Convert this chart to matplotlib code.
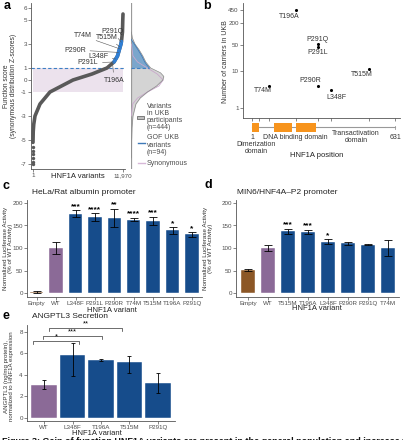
import numpy as np
import matplotlib
matplotlib.use('Agg')
import matplotlib.pyplot as plt
from matplotlib.patches import Rectangle
from matplotlib.lines import Line2D

plt.rcParams['font.family'] = ['Liberation Sans', 'DejaVu Sans']
plt.rcParams['axes.unicode_minus'] = False

# ---------------- data ----------------
# panel a: sorted function scores (variant rank -> score)
curve_idx = [1, 30, 100, 266, 930, 2260, 5320, 7850, 9840, 10770, 11240, 11700, 11760, 11900, 11940, 11970]
curve_score = [-5.2, -4.3, -3.7, -3.0, -2.0, -1.0, 0.0, 0.5, 1.0, 1.5, 2.0, 3.0, 3.2, 4.0, 5.0, 5.5]
outlier_score = [-5.6, -5.9, -6.2, -6.5, -6.8, -7.0]
gof_lo, gof_hi = 1.5, 3.2
a_variants = ['P291Q', 'T74M', 'T515M', 'P290R', 'L348F', 'P291L', 'T196A']
a_scores = [3.15, 2.6, 2.75, 2.3, 1.75, 1.5, 1.4]
a_yticks = [-7, -5, -3, -1, 0, 1, 3, 5, 6]

# densities (score -> relative density)
ukb_y = [-6.5, -5, -4, -3, -2, -1.5, -1, -0.5, 0, 0.3, 0.6, 1.0, 1.5, 2.0, 2.5, 3.0, 3.5, 4.0]
ukb_w = [0.01, 0.02, 0.03, 0.06, 0.15, 0.28, 0.5, 0.78, 0.97, 1.0, 0.9, 0.6, 0.45, 0.36, 0.25, 0.12, 0.04, 0.01]
gof_y = [1.0, 1.2, 1.5, 2.0, 2.5, 3.0, 3.4]
gof_w = [0.56, 0.5, 0.42, 0.33, 0.22, 0.1, 0.0]
syn_y = [-3, -2, -1.5, -1, -0.5, 0, 0.5, 1, 1.5, 2, 3]
syn_w = [0.01, 0.05, 0.2, 0.5, 0.85, 0.98, 0.8, 0.5, 0.2, 0.06, 0.01]

# panel b
b_variants = ['T196A', 'P291Q', 'P291L', 'T515M', 'P290R', 'L348F', 'T74M']
b_position = [196, 291, 291, 515, 290, 348, 74]
b_carriers = [440, 54, 46, 11, 4, 3, 4]
b_yticks = [1, 10, 50, 200, 450]
domains = [('dim', 1, 32), ('dna1', 98, 177), ('dna2', 195, 283)]
protein_len = 631

# panel c
c_variants = ['Empty', 'WT', 'L348F', 'P291L', 'P290R', 'T74M', 'T515M', 'T196A', 'P291Q']
c_mean = [3, 100, 176, 169, 167, 163, 160, 139, 130]
c_err = [2, 13, 8, 8, 20, 4, 9, 7, 5]
c_sig = ['', '', '***', '****', '**', '****', '***', '*', '*']

# panel d
d_variants = ['Empty', 'WT', 'T515M', 'T196A', 'L348F', 'P290R', 'P291Q', 'T74M']
d_mean = [51, 100, 137, 136, 114, 110, 107, 100]
d_err = [2, 7, 5, 4, 5, 3, 1, 18]
d_sig = ['', '', '***', '***', '*', '', '', '']

# panel e
e_variants = ['WT', 'L348F', 'T196A', 'T515M', 'P291Q']
e_mean = [3.1, 5.85, 5.38, 5.17, 3.23]
e_err_lo = [0.46, 2.0, 0.1, 1.0, 0.9]
e_err_hi = [0.46, 1.15, 0.1, 0.55, 0.95]
e_brackets = [(0.61, 2.23, 7.16, '*'), (0.96, 3.04, 7.63, '***'), (1.18, 3.74, 8.37, '**')]

# ---------------- styling ----------------
W, H = 403, 440
fig = plt.figure(figsize=(W / 100, H / 100), dpi=100)
TICK = '#4d4d4d'
SPINE = '#555555'
BLUE = '#164c8b'
PURPLE = '#8b6a97'
BROWN = '#8c5726'


def rect(x0, y0, x1, y1):
    return [x0 / W, 1 - y1 / H, (x1 - x0) / W, (y1 - y0) / H]


def ftext(x, y, s, **kw):
    kw.setdefault('ha', 'center')
    kw.setdefault('va', 'center')
    kw.setdefault('fontsize', 5)
    fig.text(x / W, 1 - y / H, s, **kw)


def style(ax, spines=('left', 'bottom')):
    for k, sp in ax.spines.items():
        sp.set_visible(k in spines)
        sp.set_color(SPINE)
        sp.set_linewidth(0.6)
    ax.tick_params(length=2, width=0.5, color=SPINE, labelsize=4.5, labelcolor=TICK, pad=1)


# ---------------- panel a ----------------
ax = fig.add_axes(rect(31, 3.2, 125, 168.8))
style(ax)
ax.set_xlim(-265, 12236)
ax.set_ylim(-7.4, 6.4)
ax.add_patch(Rectangle((1, -1), 11969, 2, color='#ece2ed', zorder=0, lw=0))
ax.axhline(1, color='#3d7fc4', lw=0.8, ls=(0, (3, 2)), zorder=1)
cx = np.array(curve_idx, float)
cy = np.array(curve_score, float)
ax.plot(cx, cy, color='#595959', lw=2.6, solid_capstyle='round', zorder=2)
m = (cy >= gof_lo) & (cy <= gof_hi)
ax.plot(cx[m], cy[m], color='#2f7fd6', lw=2.6, solid_capstyle='round', zorder=3)
ax.scatter([1] * len(outlier_score), outlier_score, s=6, color='#595959', lw=0, zorder=2)
ax.set_yticks(a_yticks)
ax.set_yticklabels([str(v) for v in a_yticks])
ax.set_xticks([1, 11970])
ax.set_xticklabels(['1', '11,970'])

a_label_pos = {'P291Q': (10507, 4.08), 'T74M': (6650, 3.67), 'T515M': (9840, 3.58),
               'P290R': (5585, 2.5), 'L348F': (8645, 1.92), 'P291L': (7315, 1.42),
               'T196A': (10772, 0.0)}
for name, sc in zip(a_variants, a_scores):
    xi = np.interp(sc, cy, cx)
    ax.annotate(name, xy=(xi, sc), xytext=a_label_pos[name], fontsize=5, color='#333333',
                ha='center', va='center',
                arrowprops=dict(arrowstyle='-', color='#555555', lw=0.4, shrinkA=1, shrinkB=0), zorder=4)

ftext(10, 86, 'Function score\n(synonymous distribution Z-scores)', rotation=90, fontsize=4.8, color='#333333',
      linespacing=1.0)
ftext(78, 176, 'HNF1A variants', fontsize=5.5, color='#222222')

# density panel
axd = fig.add_axes(rect(131, 3.2, 172, 168.8))
axd.set_xlim(0, 1.25)
axd.set_ylim(-7.4, 6.4)
axd.axis('off')
axd.axvline(0, color='#9a9a9a', lw=0.9)
axd.fill_betweenx(ukb_y, 0, ukb_w, color='#d4d4d4', lw=0)
axd.plot(syn_w, syn_y, color='#c9a8cc', lw=0.6)
axd.plot(ukb_w, ukb_y, color='#8a8a8a', lw=0.5)
axd.fill_betweenx(gof_y, 0, gof_w, color='#7aa6cc', lw=0)
axd.plot(gof_w, gof_y, color='#3e7ab8', lw=0.6)
axd.plot([0, 0.55], [1, 1], color='#3d7fc4', lw=0.8, ls=(0, (3, 2)))

# legend
fig.patches.append(Rectangle((137 / W, 1 - 119 / H), 7 / W, 3 / H, transform=fig.transFigure,
                             facecolor='#bdbdbd', edgecolor='#555555', lw=0.5))
fig.lines.append(Line2D([138 / W, 145 / W], [1 - 143 / H] * 2, transform=fig.transFigure, color='#3e7ab8', lw=1))
fig.lines.append(Line2D([138 / W, 145 / W], [1 - 163 / H] * 2, transform=fig.transFigure, color='#d7b8d8', lw=1))
ftext(147, 117, 'Variants\nin UKB\nparticipants\n(n=444)', ha='left', color=TICK, fontsize=5, linespacing=1.05)
ftext(147, 145, 'GOF UKB\nvariants\n(n=94)', ha='left', color=TICK, fontsize=5, linespacing=1.05)
ftext(147, 163, 'Synonymous', ha='left', color=TICK, fontsize=5)

# ---------------- panel b ----------------
axb = fig.add_axes(rect(243, 3, 400, 118))
style(axb)
axb.set_yscale('log')
axb.set_xlim(-38.6, 653)
axb.set_ylim(0.53, 700)
axb.set_yticks(b_yticks)
axb.set_yticklabels([str(v) for v in b_yticks])
axb.minorticks_off()
axb.set_xticks([1, 32, 74, 196, 290, 348, 515, 631])
axb.set_xticklabels([])
axb.scatter(b_position, b_carriers, s=5, color='black', lw=0, zorder=3)
b_offsets = {'T196A': (-5, -4.3), 'P291Q': (0, 3.2), 'P291L': (0, -4.2), 'T515M': (-5, -3.8),
             'P290R': (-5, 3.6), 'L348F': (4.3, -5), 'T74M': (-4.3, -3.8)}
for name, pos, n in zip(b_variants, b_position, b_carriers):
    axb.annotate(name, xy=(pos, n), xytext=b_offsets[name], textcoords='offset points',
                 fontsize=5, color='#333333', ha='center', va='center')
ftext(225, 62, 'Number of carriers in UKB', rotation=90, fontsize=5, color='#333333')

axdom = fig.add_axes(rect(243, 121, 400, 134))
axdom.set_xlim(-38.6, 653)
axdom.set_ylim(-1, 1)
axdom.axis('off')
axdom.plot([1, protein_len], [0, 0], color='#999999', lw=0.8, zorder=1)
axdom.plot([protein_len, protein_len], [-0.3, 0.3], color='#999999', lw=0.6)
for nm, s, e in domains:
    axdom.add_patch(Rectangle((s, -0.7), e - s, 1.4, color='#f7941d', lw=0, zorder=2))
ftext(252, 137.5, '1', color='#333333')
ftext(256, 148, 'Dimerization\ndomain', color='#333333', linespacing=1.1)
ftext(295, 137.5, 'DNA binding domain', color='#333333')
ftext(356, 137, 'Transactivation\ndomain', color='#333333', linespacing=1.1)
ftext(395, 137.5, '631', color='#333333')
ftext(317, 155, 'HNF1A position', fontsize=5.5, color='#222222')


# ---------------- bar panels ----------------
def bars(axb_, names, mean, err_lo, err_hi, sig, width, capsize, colors):
    x = np.arange(1, len(names) + 1)
    axb_.bar(x, mean, width=width, color=colors, edgecolor='white', lw=0.3, zorder=2)
    axb_.errorbar(x, mean, yerr=[err_lo, err_hi], fmt='none', ecolor='black', elinewidth=0.6,
                  capsize=capsize, capthick=0.6, zorder=3)
    if sig is not None:
        for xi, mi, ei, s in zip(x, mean, err_hi, sig):
            if s:
                axb_.text(xi, mi + ei + 1, s, ha='center', va='bottom', fontsize=6, fontweight='bold',
                          color='black', linespacing=0.5)
    axb_.set_xticks(x)
    axb_.set_xticklabels(names)


# panel c
axc = fig.add_axes(rect(27, 199.85, 201.6, 297.05))
style(axc)
axc.set_xlim(0.5, 9.5)
axc.set_ylim(-9, 207)
colc = [BROWN, PURPLE] + [BLUE] * (len(c_variants) - 2)
bars(axc, c_variants, c_mean, c_err, c_err, c_sig, 0.7, 2.6, colc)
axc.set_yticks([0, 50, 100, 150, 200])
axc.tick_params(axis='x', labelsize=4.5)
ftext(32, 192, 'HeLa/Rat albumin promoter', ha='left', fontsize=6, color='#222222')
ftext(112, 310, 'HNF1A variant', fontsize=5.5, color='#222222')
ftext(8, 248, 'Normalized Luciferase Activity\n(% of WT Activity)', rotation=90, fontsize=4.5,
      color='#333333', linespacing=0.95)

# panel d
axdd = fig.add_axes(rect(236, 199.85, 399, 297.05))
style(axdd)
axdd.set_xlim(0.4, 8.55)
axdd.set_ylim(-9, 207)
cold = [BROWN, PURPLE] + [BLUE] * (len(d_variants) - 2)
bars(axdd, d_variants, d_mean, d_err, d_err, d_sig, 0.68, 2.6, cold)
axdd.set_yticks([0, 50, 100, 150, 200])
axdd.tick_params(axis='x', labelsize=4.5)
ftext(237, 192, 'MIN6/HNF4A\u2013P2 promoter', ha='left', fontsize=6, color='#222222')
ftext(317, 309, 'HNF1A variant', fontsize=5.5, color='#222222')
ftext(208, 248, 'Normalized Luciferase Activity\n(% of WT Activity)', rotation=90, fontsize=4.5,
      color='#333333', linespacing=0.95)

# panel e
axe = fig.add_axes(rect(27, 325, 175, 421))
style(axe)
axe.set_xlim(0.4, 5.6)
axe.set_ylim(-0.3, 8.65)
cole = [PURPLE] + [BLUE] * (len(e_variants) - 1)
bars(axe, e_variants, e_mean, e_err_lo, e_err_hi, None, 0.9, 1.6, cole)
axe.set_yticks([0, 2, 4, 6, 8])
axe.tick_params(axis='x', labelsize=4.5)
for x0, x1, yb, s in e_brackets:
    axe.plot([x0, x0, x1, x1], [yb - 0.28, yb, yb, yb - 0.28], color='#333333', lw=0.5, clip_on=False)
    axe.text((x0 + x1) / 2, yb + 0.02, s, ha='center', va='bottom', fontsize=5.5, color='black')
ftext(32, 316, 'ANGPTL3 Secretion', ha='left', fontsize=6, color='#222222')
ftext(97, 433, 'HNF1A variant', fontsize=5.5, color='#222222')
ftext(9, 376, 'ANGPTL3 (ng/mg protein),\nnormalized to HNF1A expression', rotation=90, fontsize=4.4,
      color='#333333', linespacing=0.95)

# panel letters
for s, x, y in [('a', 7, 6), ('b', 207, 6), ('c', 6, 186), ('d', 208, 185), ('e', 6, 316)]:
    ftext(x, y, s, fontsize=9, fontweight='bold', color='black')

# caption (cut off at the bottom)
ftext(2, 436.5, 'Figure 3: Gain of function HNF1A variants are present in the general population and increase transcriptional',
      ha='left', va='top', fontsize=6.5, fontweight='bold', color='#111111')

fig.savefig('out.png', dpi=100)
